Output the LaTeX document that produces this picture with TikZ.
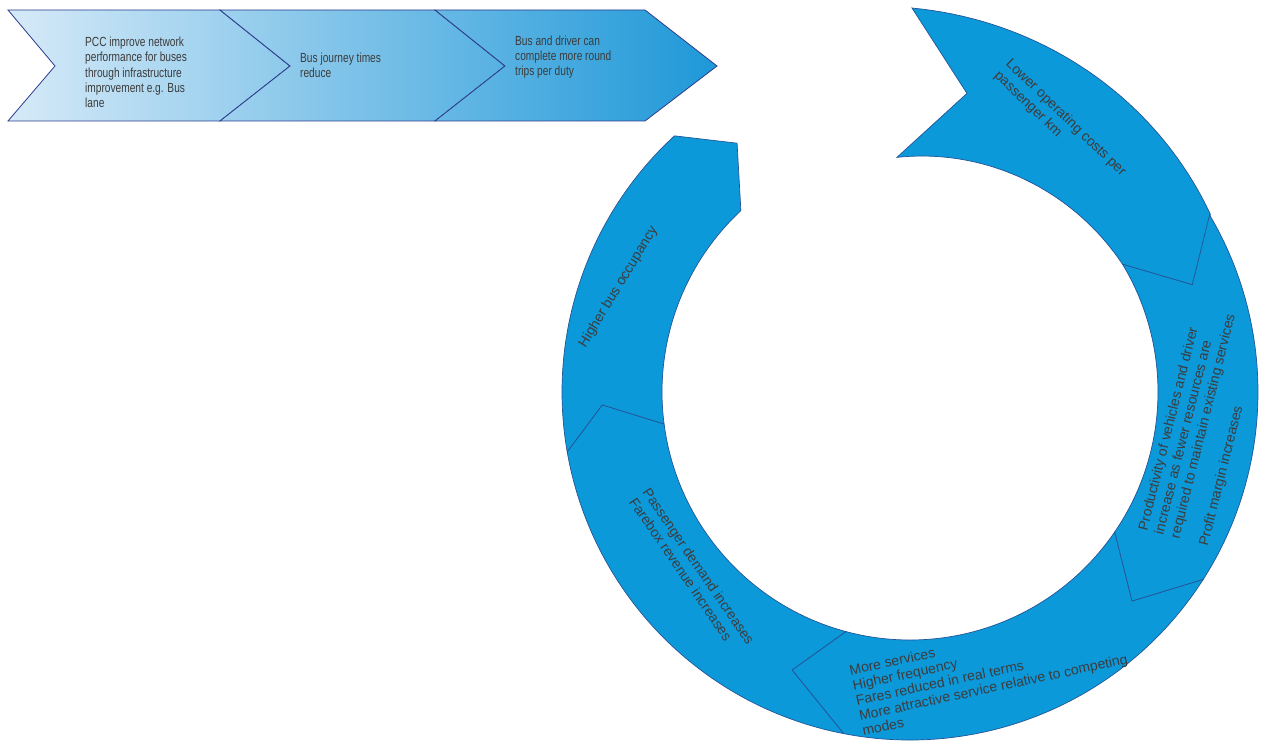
\documentclass[tikz,border=0pt]{standalone}
\usepackage{fontspec}
\setmainfont{Liberation Sans}
\newfontfamily\narrowsans[FakeStretch=0.77]{Liberation Sans}
\usepackage{tikz}

\definecolor{ringblue}{RGB}{12,153,218}
\definecolor{ringedge}{RGB}{35,85,150}
\definecolor{chevlight}{RGB}{214,234,248}
\definecolor{chevdark}{RGB}{30,152,216}
\definecolor{chevedge}{RGB}{45,60,140}
\definecolor{txtgray}{RGB}{60,60,60}

\begin{document}
\begin{tikzpicture}[x=1pt,y=1pt,
    chev/.style={draw=chevedge, line width=0.8pt},
    seg/.style={fill=ringblue, draw=ringedge, line width=0.7pt},
    ctext/.style={align=left, inner sep=0pt, text=txtgray,
      font=\narrowsans\fontsize{13.2}{15.3}\selectfont},
    rtext/.style={align=left, inner sep=0pt, text=txtgray,
      font=\fontsize{14}{16.5}\selectfont}]
  \fill[white] (0,0) rectangle (1282,740);
  \useasboundingbox (0,0) rectangle (1282,740);

  \path[chev, left color=chevlight, right color=chevdark!40!chevlight]
    (8,730) -- (220,730) -- (290,674) -- (220,619) -- (8,619) -- (55,674) -- cycle;
  \path[chev, left color=chevdark!30!chevlight, right color=chevdark!70!chevlight]
    (220,730) -- (435,730) -- (505,674) -- (435,619) -- (220,619) -- (290,674) -- cycle;
  \path[chev, left color=chevdark!60!chevlight, right color=chevdark]
    (435,730) -- (645,730) -- (717,674) -- (645,619) -- (435,619) -- (505,674) -- cycle;

  \node[ctext, anchor=west] (pcc) at (85,667.5)
    {PCC improve network\\performance for buses\\through infrastructure\\improvement e.g. Bus\\lane};
  \node[ctext, anchor=west] (jt) at (300,674.5) {Bus journey times\\reduce};
  \node[ctext, anchor=west] (trips) at (515,683)
    {Bus and driver can\\complete more round\\trips per duty};

  \begin{scope}[shift={(910,348)}]
    \path[seg] (89.7:384) -- plot[domain=89.7:30.6, samples=40] (\x:{349+(\x-30.6)*0.592})
      -- (20.8:302) -- (31:248) -- plot[domain=31:93.2, samples=40] (\x:{248-(\x-31)*0.209})
      -- (79.2:304) -- cycle;
    \path[seg] (30.6:348) arc[start angle=30.6, end angle=-32.6, radius=348pt]
      -- (-43.3:305) -- (-34.4:248) arc[start angle=-34.4, end angle=31, radius=248pt]
      -- (20.8:302) -- cycle;
    \path[seg] (-32.6:348) arc[start angle=-32.6, end angle=-101, radius=348pt]
      -- (-113:302) -- (-105:248) arc[start angle=-105, end angle=-34.4, radius=248pt]
      -- (-43.3:305) -- cycle;
    \path[seg] (-101:348) arc[start angle=-101, end angle=-170.1, radius=348pt]
      -- (-177.6:308) -- (-172.6:248) arc[start angle=-172.6, end angle=-105, radius=248pt]
      -- (-113:302) -- cycle;
    \path[seg] (-170.1:348) arc[start angle=-170.1, end angle=-227.4, radius=348pt]
      -- (124.8:303) -- (133:248) arc[start angle=-227, end angle=-172.6, radius=248pt]
      -- (-177.6:308) -- cycle;
  \end{scope}

  \node[rtext, rotate=-44] (cost) at (1060,616) {Lower operating costs per\\passenger km};
  \node[rtext, rotate=76] (prod) at (1202,314)
    {Productivity of vehicles and driver\\increase as fewer resources are\\required to maintain existing services\\[13pt]Profit margin increases};
  \node[rtext, rotate=12, font=\fontsize{14}{15.5}\selectfont] (serv) at (990,68)
    {More services\\Higher frequency\\Fares reduced in real terms\\More attractive service relative to competing\\modes};
  \node[rtext, rotate=-55.5] (dem) at (692,169)
    {Passenger demand increases\\Farebox revenue increases};
  \node[rtext, rotate=58.7] (occ) at (618.5,453) {Higher bus occupancy};
\end{tikzpicture}
\end{document}
